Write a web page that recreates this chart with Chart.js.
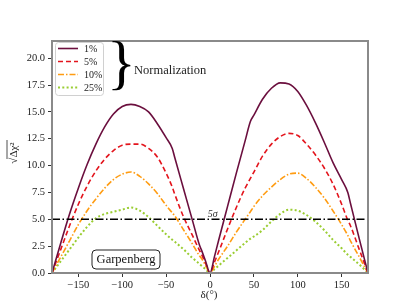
<!DOCTYPE html>
<html lang="en">
<head>
  <meta charset="utf-8">
  <title>Garpenberg sensitivity</title>
  <script src="https://cdn.jsdelivr.net/npm/chart.js"></script>
  <style>
    html, body { margin: 0; padding: 0; background: #fff; }
    canvas { display: block; }
  </style>
</head>
<body>
  <canvas id="myChart" width="409" height="307"></canvas>

<script>
  // delta (degrees) grid and sqrt(delta chi^2) for each normalization uncertainty
  var delta = [-180, -170, -160, -150, -140, -130, -120, -110, -100, -90, -80, -70, -60, -50, -43, -40, -30, -20, -12, -10, -5, 0,
               5, 10, 20, 30, 40, 46, 50, 60, 70, 80, 90, 100, 110, 120, 130, 140, 150, 157, 160, 170, 180];
  var chi1  = [0, 2.8, 5.5, 7.9, 10.1, 12.0, 13.6, 14.8, 15.5, 15.7, 15.5, 15.0, 13.9, 12.6, 11.6, 10.7, 7.8, 4.9, 2.6, 2.2, 1.1, 0,
               1.5, 3.1, 6.2, 9.3, 12.3, 14.1, 14.7, 16.2, 17.2, 17.7, 17.6, 16.9, 15.6, 14.0, 12.2, 10.3, 8.7, 7.5, 6.5, 3.2, 0];
  var chi5  = [0, 2.2, 4.4, 6.4, 8.1, 9.5, 10.6, 11.4, 11.9, 12.0, 12.0, 11.6, 10.8, 9.3, 8.0, 7.3, 5.2, 3.5, 2.1, 1.8, 0.9, 0,
               1.0, 2.0, 4.1, 6.1, 7.9, 8.8, 9.4, 10.9, 12.0, 12.7, 13.0, 12.8, 12.0, 11.0, 9.8, 8.3, 6.4, 4.9, 4.4, 2.2, 0];
  var chi10 = [0, 1.5, 3.0, 4.5, 5.8, 6.9, 7.9, 8.7, 9.2, 9.4, 9.0, 8.3, 7.4, 6.3, 5.6, 5.3, 4.0, 2.7, 1.6, 1.4, 0.7, 0,
               0.6, 1.3, 2.5, 3.8, 5.0, 5.7, 6.2, 7.2, 8.0, 8.7, 9.2, 9.3, 8.8, 8.0, 7.0, 5.8, 4.5, 3.5, 3.0, 1.5, 0];
  var chi25 = [0, 1.1, 2.2, 3.3, 4.3, 5.1, 5.5, 5.7, 5.9, 6.1, 5.8, 5.2, 4.4, 3.6, 3.1, 2.9, 2.2, 1.4, 0.85, 0.7, 0.35, 0,
               0.35, 0.7, 1.4, 2.1, 2.8, 3.2, 3.4, 4.0, 4.8, 5.5, 5.9, 5.8, 5.4, 4.8, 4.0, 3.1, 2.3, 1.7, 1.5, 0.8, 0];
  var labels = ['1%', '5%', '10%', '25%'];
  var sigmaLevel = 5;
  var xTicks = [-150, -100, -50, 0, 50, 100, 150];
  var yTicks = [0, 2.5, 5, 7.5, 10, 12.5, 15, 17.5, 20];

  var SERIF = '"Liberation Serif", "DejaVu Serif", serif';

  function pts(arr) {
    return delta.map(function (d, i) { return { x: d, y: arr[i] }; });
  }

  var styles = [
    { color: '#6b0f3e', dash: [], width: 1.6 },
    { color: '#e3141c', dash: [5, 3], width: 1.6 },
    { color: '#ff9c12', dash: [6, 2, 1.5, 2], width: 1.6 },
    { color: '#9acd32', dash: [2, 2.3], width: 2 }
  ];

  var series = [chi1, chi5, chi10, chi25];
  var datasets = series.map(function (s, i) {
    return {
      label: labels[i],
      data: pts(s),
      borderColor: styles[i].color,
      borderDash: styles[i].dash,
      borderWidth: styles[i].width,
      pointRadius: 0,
      cubicInterpolationMode: 'monotone',
      fill: false
    };
  });
  // 5 sigma reference line
  datasets.unshift({
    label: '5σ',
    data: [{ x: -180, y: sigmaLevel }, { x: 180, y: sigmaLevel }],
    borderColor: '#000',
    borderDash: [8, 2.5, 1.5, 2.5],
    borderWidth: 1.5,
    pointRadius: 0,
    fill: false
  });

  var extras = {
    id: 'extras',
    afterDatasetsDraw: function (chart) {
      var ctx = chart.ctx;
      var a = chart.chartArea;
      var xs = chart.scales.x, ys = chart.scales.y;
      ctx.save();

      // frame
      ctx.strokeStyle = '#8a8a8a';
      ctx.lineWidth = 2;
      ctx.setLineDash([]);
      ctx.strokeRect(a.left, a.top, a.right - a.left, a.bottom - a.top);

      // legend
      ctx.beginPath();
      ctx.roundRect(55.5, 42.5, 48, 53, 3);
      ctx.fillStyle = 'rgba(255,255,255,0.85)';
      ctx.fill();
      ctx.strokeStyle = '#d0d0d0';
      ctx.lineWidth = 1;
      ctx.stroke();
      var ly = [48.5, 61.5, 74.5, 87.5];
      ctx.font = '10px ' + SERIF;
      ctx.textBaseline = 'middle';
      ctx.textAlign = 'left';
      for (var i = 0; i < 4; i++) {
        ctx.beginPath();
        ctx.strokeStyle = styles[i].color;
        ctx.lineWidth = styles[i].width;
        ctx.setLineDash(styles[i].dash);
        ctx.moveTo(58, ly[i]);
        ctx.lineTo(78, ly[i]);
        ctx.stroke();
        ctx.setLineDash([]);
        ctx.fillStyle = '#222';
        ctx.fillText(labels[i], 84, ly[i] + 0.5);
      }

      // brace and Normalization
      ctx.fillStyle = '#000';
      ctx.font = '60px ' + SERIF;
      ctx.textBaseline = 'middle';
      ctx.fillText('}', 107, 66);
      ctx.font = '12.5px ' + SERIF;
      ctx.fillStyle = '#222';
      ctx.fillText('Normalization', 134, 71);

      // 5 sigma label
      ctx.font = 'italic 10px ' + SERIF;
      ctx.textAlign = 'center';
      ctx.textBaseline = 'alphabetic';
      ctx.fillStyle = '#333';
      ctx.fillText('5σ', xs.getPixelForValue(3), ys.getPixelForValue(sigmaLevel) - 2);

      // Garpenberg box
      ctx.beginPath();
      ctx.roundRect(92, 250, 68, 19, 4);
      ctx.fillStyle = '#fff';
      ctx.fill();
      ctx.strokeStyle = '#222';
      ctx.lineWidth = 1;
      ctx.stroke();
      ctx.font = '12.5px ' + SERIF;
      ctx.fillStyle = '#111';
      ctx.textBaseline = 'middle';
      ctx.fillText('Garpenberg', 126, 260);

      // axis titles
      ctx.font = '11px ' + SERIF;
      ctx.fillStyle = '#222';
      ctx.fillText('δ(°)', 209, 295);
      ctx.translate(14, 153);
      ctx.rotate(-Math.PI / 2);
      ctx.fillText('√Δχ²', 0, 0);
      ctx.beginPath();
      ctx.lineWidth = 0.8;
      ctx.moveTo(-6, -7);
      ctx.lineTo(13, -7);
      ctx.stroke();
      ctx.restore();
    }
  };

  var ctx = document.getElementById('myChart').getContext('2d');
  var myChart = new Chart(ctx, {
    type: 'line',
    data: { datasets: datasets },
    options: {
      responsive: false,
      animation: false,
      layout: { padding: { top: 41, right: 41, left: 0, bottom: 0 } },
      plugins: {
        legend: { display: false },
        tooltip: { enabled: false }
      },
      scales: {
        x: {
          type: 'linear',
          min: -180,
          max: 180,
          afterFit: function (s) { s.height = 34; },
          afterBuildTicks: function (s) { s.ticks = xTicks.map(function (v) { return { value: v }; }); },
          border: { display: false },
          grid: { drawOnChartArea: false, drawTicks: true, tickLength: 4, color: '#333', tickWidth: 1 },
          ticks: {
            padding: 2,
            maxRotation: 0,
            color: '#222',
            font: { family: SERIF, size: 10.5 },
            callback: function (v) { return v < 0 ? '−' + Math.abs(v) : String(v); }
          }
        },
        y: {
          min: 0,
          max: 21.6,
          afterFit: function (s) { s.width = 52; },
          afterBuildTicks: function (s) { s.ticks = yTicks.map(function (v) { return { value: v }; }); },
          border: { display: false },
          grid: { drawOnChartArea: false, drawTicks: true, tickLength: 4, color: '#333', tickWidth: 1 },
          ticks: {
            padding: 3,
            color: '#222',
            font: { family: SERIF, size: 10.5 },
            callback: function (v) { return v.toFixed(1); }
          }
        }
      }
    },
    plugins: [extras]
  });
</script>
</body>
</html>
